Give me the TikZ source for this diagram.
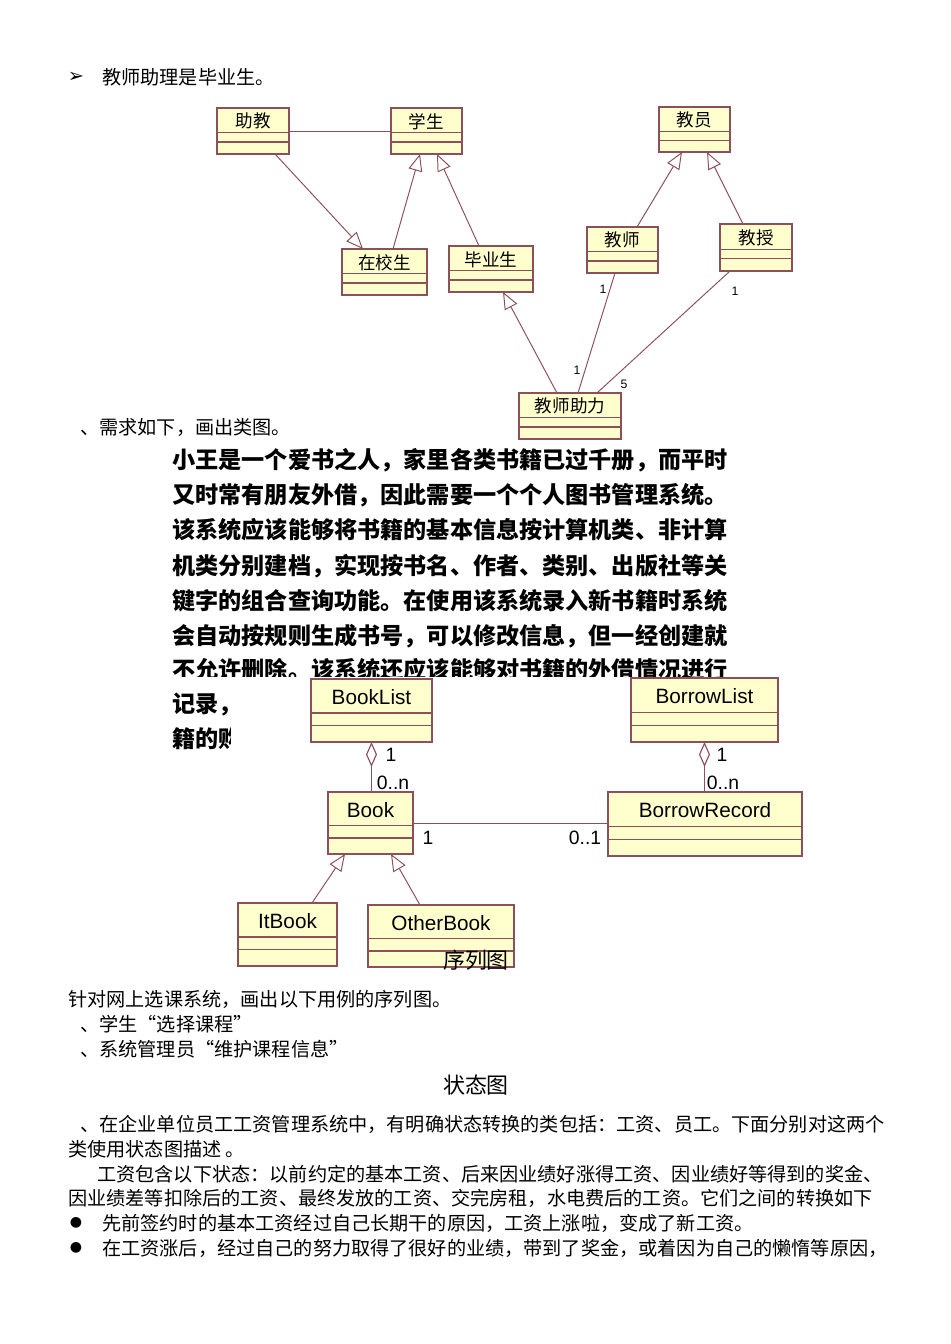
\documentclass[tikz,border=0pt]{standalone}
\usepackage{fontspec}
\setmainfont{Liberation Serif}
\newfontfamily\cjk{Noto Sans CJK SC}
\newfontfamily\umlfont{Liberation Sans}
\newfontfamily\symfont{DejaVu Sans}
\usetikzlibrary{arrows.meta,calc,fit}

\definecolor{umlline}{RGB}{140,80,90}
\definecolor{umlfill}{RGB}{255,255,206}
\newcommand{\px}{0.02cm}

% class box: name, upper left, lower right, label
\newcommand{\umlclass}[4]{%
  \node[classbox,fit={#2 #3}] (#1) {};
  \node[classname] (#1-name) at ($(#1.north)!.29!(#1.south)$) {#4};
  \draw[classsep] ($(#1.north west)!.54!(#1.south west)$) -- ($(#1.north east)!.54!(#1.south east)$);
  \draw[classsep] ($(#1.north west)!.74!(#1.south west)$) -- ($(#1.north east)!.74!(#1.south east)$);}

\begin{document}
\begin{tikzpicture}[x=0.02cm,y=-0.02cm,
      classbox/.style={draw=umlline,fill=umlfill,line width=.8pt,inner sep=0pt,outer sep=0pt},
      classsep/.style={draw=umlline,line width=.7pt},
      classname/.style={inner sep=0pt},
      gen/.style={draw=umlline,line width=.55pt,-{Triangle[open,length=.34cm,width=.28cm]}},
      assoc/.style={draw=umlline,line width=.55pt},
      aggr/.style={draw=umlline,line width=.65pt,{Diamond[open,length=.5cm,width=.22cm]}-},
      mult/.style={inner sep=0pt,font=\umlfont\fontsize{7}{8}\selectfont},
      multb/.style={inner sep=0pt,font=\umlfont\fontsize{11}{12}\selectfont},
      body/.style={anchor=west,inner sep=0pt,font=\cjk\fontsize{10.9}{13}\selectfont},
      bullet/.style={inner sep=0pt,font=\symfont\fontsize{8}{10}\selectfont},
      para/.style={anchor=west,inner sep=0pt,font=\cjk\bfseries\fontsize{13.17}{15}\selectfont},
      title/.style={inner sep=0pt,font=\cjk\fontsize{12.5}{14}\selectfont}]
  \useasboundingbox[fill=white] (0,0) rectangle (950,1344);

  % Lehrer-Assistent
  \node[inner sep=0pt,font=\symfont\fontsize{11}{12}\selectfont] (mark) at (76,77) {➢};
  \node[body] (intro) at (102,77) {教师助理是毕业生。};

  \begin{scope}[classname/.style={inner sep=0pt,font=\cjk\fontsize{10}{11}\selectfont}]
    \umlclass{assistant}{(217,108)}{(289,154)}{助教}
    \umlclass{student}{(391,108)}{(462,154)}{学生}
    \umlclass{enrolled}{(342,249)}{(427,295)}{在校生}
    \umlclass{graduate}{(449,246)}{(533,292)}{毕业生}
    \umlclass{staff}{(659,107)}{(730,152)}{教员}
    \umlclass{teacher}{(587,227)}{(658,273)}{教师}
    \umlclass{professor}{(720,224)}{(792,271)}{教授}
    \umlclass{ta}{(519,393)}{(621,439)}{教师助力}
  \end{scope}
  \draw[assoc] (assistant.east) -- (student.west);
  \draw[gen] ([xshift=22*\px]assistant.south) -- ([xshift=-21.5*\px]enrolled.north);
  \draw[gen] ([xshift=8.5*\px]enrolled.north) -- ([xshift=-6.5*\px]student.south);
  \draw[gen] ([xshift=-12*\px]graduate.north) -- ([xshift=10.5*\px]student.south);
  \draw[gen] ([xshift=-13*\px]ta.north) -- ([xshift=12*\px]graduate.south);
  \draw[gen] ([xshift=14.5*\px]teacher.north) -- ([xshift=-12.5*\px]staff.south);
  \draw[gen] ([xshift=-13*\px]professor.north) -- ([xshift=12.5*\px]staff.south);
  \draw[assoc] ([xshift=-7.5*\px]teacher.south) -- ([xshift=8*\px]ta.north);
  \draw[assoc] ([xshift=-26*\px]professor.south) -- ([xshift=27*\px]ta.north);
  \node[mult] (m1) at (603,289) {1};
  \node[mult] (m2) at (577,370) {1};
  \node[mult] (m3) at (735,291) {1};
  \node[mult] (m4) at (624,384) {5};

  % Bibliothek
  \node[body] (task) at (80,427) {、需求如下，画出类图。};
  \node[para] (p1) at (172,460) {小王是一个爱书之人，家里各类书籍已过千册，而平时};
  \node[para] (p2) at (172,495) {又时常有朋友外借，因此需要一个个人图书管理系统。};
  \node[para] (p3) at (172,530) {该系统应该能够将书籍的基本信息按计算机类、非计算};
  \node[para] (p4) at (172,566) {机类分别建档，实现按书名、作者、类别、出版社等关};
  \node[para] (p5) at (172,601) {键字的组合查询功能。在使用该系统录入新书籍时系统};
  \node[para] (p6) at (172,636) {会自动按规则生成书号，可以修改信息，但一经创建就};
  \begin{scope}
    \clip (150,645) rectangle (760,676);
    \node[para] (p7) at (172,670) {不允许删除。该系统还应该能够对书籍的外借情况进行};
  \end{scope}
  \begin{scope}
    \clip (150,680) rectangle (230,760);
    \node[para] (p8) at (172,705) {记录，};
    \node[para] (p9) at (172,739) {籍的购};
  \end{scope}

  \begin{scope}[classname/.style={inner sep=0pt,font=\umlfont\fontsize{11.8}{13}\selectfont}]
    \umlclass{booklist}{(311,679)}{(432,742)}{BookList}
    \umlclass{borrowlist}{(631,678)}{(778,742)}{BorrowList}
    \umlclass{book}{(328,792)}{(413,854)}{Book}
    \umlclass{record}{(608,792)}{(802,856)}{BorrowRecord}
    \umlclass{itbook}{(238,903)}{(337,966)}{ItBook}
    \umlclass{otherbook}{(368,905)}{(514,967)}{OtherBook}
  \end{scope}
  \draw[aggr] (booklist.south) -- (booklist.south |- book.north);
  \draw[aggr] (borrowlist.south) -- (borrowlist.south |- record.north);
  \draw[assoc] (book.east) -- (book.east -| record.west);
  \draw[gen] ([xshift=24.5*\px]itbook.north) -- ([xshift=-25.5*\px]book.south);
  \draw[gen] ([xshift=-21*\px]otherbook.north) -- ([xshift=20.5*\px]book.south);
  \node[multb] (n1) at (391,755) {1};
  \node[multb] (n2) at (393,783) {0..n};
  \node[multb] (n3) at (722,755) {1};
  \node[multb] (n4) at (723,783) {0..n};
  \node[multb] (n5) at (428,838) {1};
  \node[multb] (n6) at (585,838) {0..1};
  \node[title] (seq) at (476,960) {序列图};

  % Text unten
  \node[body] (s1) at (68,999) {针对网上选课系统，画出以下用例的序列图。};
  \node[body] (s2) at (80,1024) {、学生“选择课程”};
  \node[body] (s3) at (80,1049) {、系统管理员“维护课程信息”};
  \node[title] (state) at (476,1085) {状态图};
  \node[body] (s4) at (80,1124) {、在企业单位员工工资管理系统中，有明确状态转换的类包括：工资、员工。下面分别对这两个};
  \node[body] (s5) at (68,1149) {类使用状态图描述 。};
  \node[body] (s6) at (97,1174) {工资包含以下状态：以前约定的基本工资、后来因业绩好涨得工资、因业绩好等得到的奖金、};
  \node[body] (s7) at (68,1198) {因业绩差等扣除后的工资、最终发放的工资、交完房租，水电费后的工资。它们之间的转换如下};
  \node[bullet] (b1) at (76,1223) {●};
  \node[body] (s8) at (102,1223) {先前签约时的基本工资经过自己长期干的原因，工资上涨啦，变成了新工资。};
  \node[bullet] (b2) at (76,1248) {●};
  \node[body] (s9) at (102,1248) {在工资涨后，经过自己的努力取得了很好的业绩，带到了奖金，或着因为自己的懒惰等原因，};
\end{tikzpicture}
\end{document}
